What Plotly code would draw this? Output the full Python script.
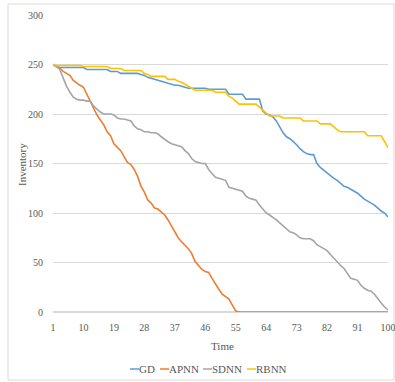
import plotly.graph_objects as go

# 时间步 1..100
time = list(range(1, 101))

gd = [250, 248, 247, 247, 247, 247, 247, 247, 247, 247,
      245, 245, 245, 245, 245, 245, 245, 243, 243, 243,
      241, 241, 241, 241, 241, 241, 240, 239, 237, 236,
      235, 234, 233, 232, 231, 230, 229, 229, 228, 227,
      226, 226, 226, 226, 226, 226, 225, 225, 225, 225,
      225, 225, 220, 220, 220, 220, 220, 215, 215, 215,
      215, 215, 203, 200, 199, 197, 193, 187, 181, 177,
      175, 172, 169, 165, 162, 160, 159, 159, 150, 146,
      143, 140, 138, 135, 133, 130, 127, 126, 124, 122,
      120, 117, 114, 112, 110, 108, 105, 102, 100, 96]

apnn = [250, 248, 246, 243, 241, 239, 234, 231, 229, 227,
        220, 213, 205, 199, 194, 189, 182, 178, 170, 166,
        163, 157, 151, 149, 144, 137, 127, 121, 113, 110,
        105, 104, 101, 98, 93, 87, 81, 75, 71, 68,
        64, 59, 51, 47, 43, 41, 40, 34, 28, 23,
        18, 15, 13, 7, 1, 0, 0, 0, 0, 0,
        0, 0, 0, 0, 0, 0, 0, 0, 0, 0,
        0, 0, 0, 0, 0, 0, 0, 0, 0, 0,
        0, 0, 0, 0, 0, 0, 0, 0, 0, 0,
        0, 0, 0, 0, 0, 0, 0, 0, 0, 0]

sdnn = [250, 248, 245, 237, 228, 222, 217, 215, 214, 214,
        213, 213, 208, 205, 202, 200, 200, 200, 199, 196,
        195, 195, 194, 193, 188, 185, 184, 182, 182, 181,
        181, 180, 177, 174, 172, 170, 169, 168, 167, 163,
        160, 155, 152, 151, 150, 150, 144, 140, 136, 135,
        134, 133, 126, 125, 124, 123, 122, 117, 115, 114,
        113, 108, 104, 100, 98, 95, 93, 90, 87, 84,
        81, 80, 78, 75, 74, 74, 74, 72, 68, 66,
        64, 62, 58, 54, 50, 47, 44, 39, 34, 33,
        32, 27, 24, 22, 21, 18, 13, 9, 5, 2]

rbnn = [250, 249, 249, 249, 249, 249, 249, 249, 249, 248,
        248, 248, 248, 248, 248, 248, 248, 246, 246, 246,
        246, 244, 244, 244, 244, 244, 244, 241, 240, 238,
        238, 238, 238, 238, 235, 235, 235, 233, 232, 230,
        228, 226, 224, 224, 224, 224, 224, 224, 222, 222,
        222, 222, 218, 216, 213, 210, 210, 210, 210, 210,
        210, 207, 204, 202, 198, 198, 198, 198, 196, 196,
        196, 196, 196, 196, 193, 193, 193, 193, 193, 190,
        190, 190, 190, 187, 184, 182, 182, 182, 182, 182,
        182, 182, 182, 178, 178, 178, 178, 178, 172, 166]

series = [("GD", gd, "#5b9bd5"), ("APNN", apnn, "#ed7d31"),
          ("SDNN", sdnn, "#a5a5a5"), ("RBNN", rbnn, "#ffc000")]

FONT = "Liberation Serif"
GREY = "#595959"

fig = go.Figure()
for name, vals, color in series:
    fig.add_trace(go.Scatter(x=time, y=vals, name=name, mode="lines",
                             line=dict(color=color, width=1.6)))

# 绘图区：x 53..388, y 15..312 (像素)
W, H = 335, 297


def px_x(p):
    return (p - 53) / W


def px_y(p):
    return (312 - p) / H


# 图例：Excel 风格的紧凑图例（短线 + 文字）
legend_x = [130, 160, 203, 247]
legend_y = 369
legend_shapes, legend_notes = [], []
for (name, _, color), lx in zip(series, legend_x):
    legend_shapes.append(dict(
        type="line", xref="paper", yref="paper",
        x0=px_x(lx), x1=px_x(lx + 9), y0=px_y(legend_y), y1=px_y(legend_y),
        line=dict(color=color, width=1.5)))
    legend_notes.append(dict(
        text=name, xref="paper", yref="paper", x=px_x(lx + 9), y=px_y(legend_y),
        xanchor="left", yanchor="middle", showarrow=False, xshift=-2,
        font=dict(size=11, color=GREY)))

fig.update_layout(
    width=395, height=382,
    margin=dict(l=53, r=7, t=15, b=70),
    paper_bgcolor="white", plot_bgcolor="white",
    font=dict(family=FONT, size=11, color=GREY),
    showlegend=False,
    xaxis=dict(range=[1, 100], tickvals=[1, 10, 19, 28, 37, 46, 55, 64, 73, 82, 91, 100],
               showgrid=False, zeroline=False, showline=False, ticks="",
               tickfont=dict(size=10), ticklabelstandoff=8,
               ticklabeloverflow="allow", automargin=False),
    yaxis=dict(range=[0, 300], dtick=50, showgrid=True, gridcolor="#d9d9d9",
               gridwidth=1, zeroline=True, zerolinecolor="#d9d9d9", zerolinewidth=1.5,
               ticks="", tickfont=dict(size=10), ticklabelstandoff=9, automargin=False),
    shapes=[dict(type="rect", xref="paper", yref="paper",
                 x0=px_x(8), x1=px_x(394), y0=px_y(380), y1=px_y(4),
                 line=dict(color="#d9d9d9", width=1), layer="below")] + legend_shapes,
    annotations=[
        dict(text="Time", xref="paper", yref="paper",
             x=px_x(222), y=px_y(346), showarrow=False,
             xanchor="center", yanchor="middle", font=dict(size=11, color=GREY)),
        dict(text="Inventory", xref="paper", yref="paper",
             x=px_x(22), y=px_y(165), showarrow=False, textangle=-90,
             xanchor="center", yanchor="middle", font=dict(size=11, color=GREY)),
    ] + legend_notes,
)

fig.write_html("out.html", config={"displayModeBar": False},
               post_script="document.body.style.margin='0';")
